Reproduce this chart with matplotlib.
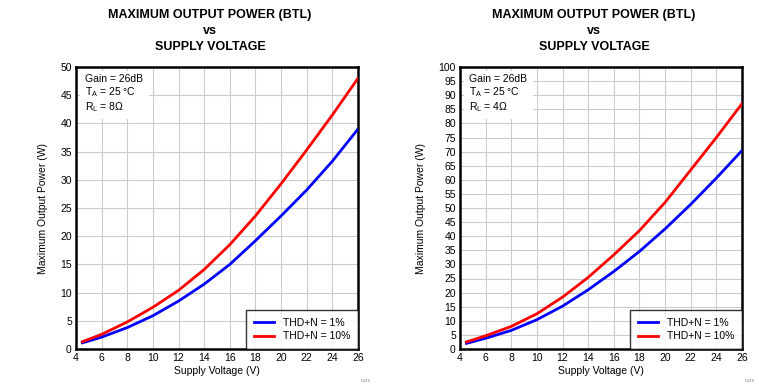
import matplotlib.pyplot as plt
import numpy as np

plt.rcParams['font.family'] = ['Liberation Sans', 'DejaVu Sans']

# supply voltage (V)
vcc = [4.5, 6, 8, 10, 12, 14, 16, 18, 20, 22, 24, 26]

# 8 ohm load
p8_thd1 = [1.1, 2.1, 3.8, 5.9, 8.5, 11.5, 15.0, 19.2, 23.6, 28.2, 33.3, 39.0]
p8_thd10 = [1.3, 2.6, 4.8, 7.4, 10.4, 14.1, 18.5, 23.6, 29.3, 35.3, 41.5, 48.0]

# 4 ohm load
p4_thd1 = [2.0, 3.8, 6.6, 10.4, 15.2, 21.0, 27.5, 34.6, 42.6, 51.3, 60.6, 70.4]
p4_thd10 = [2.5, 4.7, 8.0, 12.5, 18.4, 25.4, 33.4, 42.0, 52.0, 63.5, 75.0, 87.0]

x_ticks = np.arange(4, 27, 2)

panels = [
    (p8_thd1, p8_thd10, 50, '8', 'G015'),
    (p4_thd1, p4_thd10, 100, '4', 'G016'),
]

fig = plt.figure(figsize=(7.59, 3.84), dpi=100)
lefts = [76 / 759, 460 / 759]

for (thd1, thd10, ymax, rl, tag), left in zip(panels, lefts):
    ax = fig.add_axes([left, 35 / 384, 282 / 759, 282 / 384])
    ax.plot(vcc, thd1, color='#0000ff', lw=2, label='THD+N = 1%', zorder=3)
    ax.plot(vcc, thd10, color='#ff0000', lw=2, label='THD+N = 10%', zorder=3)

    ax.set_xlim(4, 26)
    ax.set_ylim(0, ymax)
    ax.set_xticks(x_ticks)
    ax.set_yticks(np.arange(0, ymax + 1, 5))
    ax.grid(True, color='#cccccc', lw=0.8)
    ax.tick_params(length=0, labelsize=7.5, pad=3)
    for sp in ax.spines.values():
        sp.set_linewidth(1.8)

    ax.set_xlabel('Supply Voltage (V)', fontsize=7.5, labelpad=2)
    ax.set_ylabel('Maximum Output Power (W)', fontsize=7.5, labelpad=9)

    ax.text(0.475, 1.05, 'MAXIMUM OUTPUT POWER (BTL)\nvs\nSUPPLY VOLTAGE',
            transform=ax.transAxes, ha='center', va='bottom',
            fontsize=9, fontweight='bold', linespacing=1.45)

    ax.text(0.033, 0.975,
            'Gain = 26dB\n$\\mathregular{T_A}$ = 25 °C\n$\\mathregular{R_L}$ = ' + rl + 'Ω',
            transform=ax.transAxes, ha='left', va='top', fontsize=7.5,
            linespacing=1.1, zorder=4,
            bbox=dict(boxstyle='square,pad=0.5', fc='white', ec='none'))

    leg = ax.legend(loc='lower right', fontsize=7.5, frameon=True, fancybox=False,
                    borderaxespad=0, handlelength=1.9, handletextpad=0.85,
                    borderpad=0.75, labelspacing=0.3)
    leg.get_frame().set_edgecolor('black')
    leg.get_frame().set_linewidth(1.0)
    leg.set_zorder(5)

    fig.text(left + 282 / 759 + 0.004, 0.003, tag, fontsize=3, color='#777777',
             ha='left', va='bottom')

plt.savefig('out.png', dpi=100)
